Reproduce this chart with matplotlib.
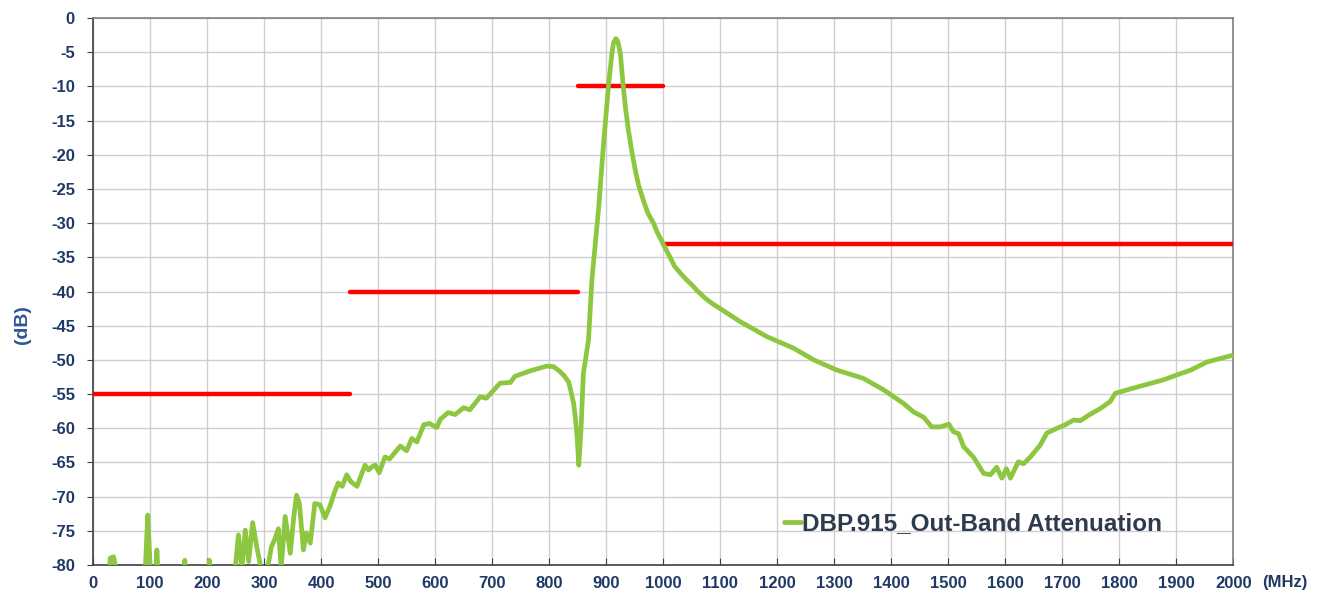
import matplotlib.pyplot as plt

# frequency (MHz) and measured attenuation (dB); values below -80 are off-scale
freq = [0, 25, 30, 36, 40, 45, 88, 92, 96, 100, 104, 108, 112, 116, 120,
        155, 161, 166, 198, 204, 209, 245, 250, 255, 261, 267, 273, 280, 287,
        296, 305, 313, 320, 325, 330, 337, 346, 352, 357, 362, 369, 374, 381,
        389, 398, 407, 416, 423, 430, 437, 445, 452, 463, 477, 483, 490, 495,
        502, 512, 520, 530, 539, 550, 559, 568, 580, 590, 603, 609, 623, 635,
        650, 661, 679, 690, 714, 732, 740, 767, 796, 808, 819, 826, 834, 838,
        843, 846, 849, 852, 856, 860, 869, 875, 887, 895, 904, 910, 913, 917,
        920, 922, 925, 927, 930, 934, 939, 945, 951, 957, 965, 973, 983, 990,
        1001, 1012, 1020, 1030, 1040, 1050, 1060, 1074, 1085, 1100, 1135, 1182,
        1229, 1264, 1305, 1351, 1387, 1422, 1439, 1457, 1471, 1486, 1501, 1509,
        1518, 1527, 1544, 1562, 1574, 1585, 1594, 1602, 1609, 1623, 1632, 1644,
        1661, 1673, 1691, 1705, 1720, 1732, 1746, 1767, 1784, 1793, 1813, 1843,
        1878, 1901, 1925, 1954, 1977, 2000]
atten = [-90, -90, -79, -78.8, -80.5, -90, -90, -80, -72.7, -80, -90, -85, -77.8, -85, -90,
         -90, -79.3, -90, -90, -79.3, -90, -90, -80, -75.6, -80.5, -74.9, -79.5, -73.8, -77.3,
         -81, -81, -77.3, -76, -74.7, -80.5, -72.9, -78.3, -73, -69.8, -71, -77.8, -75.3, -76.8,
         -71, -71.2, -73.1, -71.3, -69.5, -68, -68.5, -66.8, -67.8, -68.5, -65.4, -66.1, -65.6, -65.4,
         -66.5, -64.2, -64.5, -63.5, -62.6, -63.3, -61.5, -62, -59.5, -59.3, -59.9, -58.7, -57.7, -58,
         -57, -57.3, -55.4, -55.6, -53.4, -53.3, -52.4, -51.6, -50.9, -51.0, -51.7, -52.3, -53.2, -54.5,
         -56.4, -58.5, -61.2, -65.4, -60, -52, -47.1, -38.3, -27.6, -18.8, -10, -5.2, -3.6, -3.0,
         -3.3, -4.0, -5.2, -7.2, -10, -13.2, -16.4, -19.5, -22.2, -24.5, -26.6, -28.5, -30, -31.4,
         -33.2, -35.0, -36.3, -37.3, -38.2, -39, -39.9, -41, -41.7, -42.5, -44.4, -46.6,
         -48.3, -50, -51.5, -52.7, -54.4, -56.4, -57.6, -58.4, -59.8, -59.8, -59.4, -60.5,
         -60.8, -62.7, -64.2, -66.6, -66.8, -65.7, -67.3, -65.9, -67.3, -64.9, -65.2, -64.2,
         -62.5, -60.7, -60, -59.5, -58.8, -58.9, -58.1, -57.1, -56.1, -54.9, -54.4, -53.7,
         -52.9, -52.2, -51.5, -50.3, -49.8, -49.3]

# spec mask segments: (start MHz, end MHz, level dB)
mask_start = [0, 450, 850, 1000]
mask_end = [450, 850, 1000, 2000]
mask_level = [-55, -40, -10, -33]

navy = '#1F3864'
plt.rcParams['font.family'] = ['Liberation Sans', 'DejaVu Sans']
plt.rcParams['font.weight'] = 'bold'
plt.rcParams['axes.unicode_minus'] = False

fig = plt.figure(figsize=(13.29, 5.99), dpi=100)
ax = fig.add_axes([0.07, 0.0568, 0.858, 0.913])

for s, e, lv in zip(mask_start, mask_end, mask_level):
    ax.plot([s, e], [lv, lv], color='#FF0000', lw=3.2, solid_capstyle='round', zorder=3)

ax.plot(freq, atten, color='#8DC63F', lw=3.4, solid_capstyle='round',
        solid_joinstyle='round', zorder=4, label='DBP.915_Out-Band Attenuation')

ax.set_xlim(0, 2000)
ax.set_ylim(-80, 0)
ax.set_xticks(range(0, 2001, 100))
ax.set_yticks(range(-80, 1, 5))
ax.grid(True, color='#CFCFCF', lw=1)
ax.set_axisbelow(True)
for sp in ax.spines.values():
    sp.set_color('#7F7F7F')
    sp.set_linewidth(1.2)
ax.spines['left'].set_color('#404040')
ax.spines['bottom'].set_color('#404040')
ax.tick_params(axis='x', direction='in', length=5, colors='#404040', labelcolor=navy,
               labelsize=12, pad=8)
ax.tick_params(axis='y', direction='out', length=4, colors='#404040', labelcolor=navy,
               labelsize=12, pad=9)

fig.text(22 / 1329, 1 - 325 / 599, '(dB)', rotation=90, ha='center', va='center',
         fontsize=14, fontweight='bold', color='#2F5597')
fig.text(1285 / 1329, 1 - 583 / 599, '(MHz)', ha='center', va='center',
         fontsize=12, fontweight='bold', color=navy)

leg = ax.legend(loc='center left', bbox_to_anchor=(784 / 1329, 1 - 524 / 599),
                bbox_transform=fig.transFigure, frameon=False, handlelength=0.7,
                handletextpad=0.05, borderpad=0, borderaxespad=0,
                prop={'size': 17.5, 'weight': 'bold'})
for t in leg.get_texts():
    t.set_color('#2E3B4E')

fig.savefig('out.png', dpi=100)
